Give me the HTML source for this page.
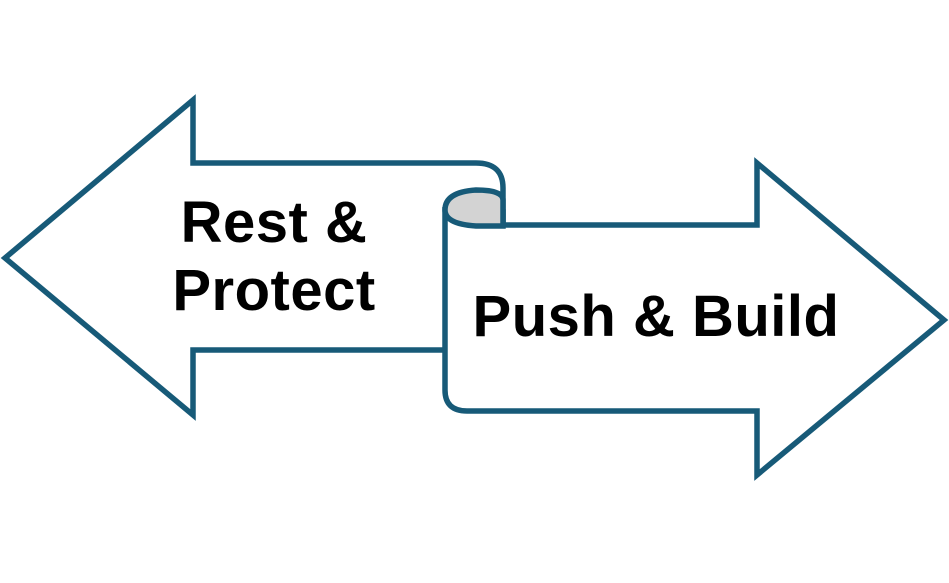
<!DOCTYPE html>
<html><head><style>body{margin:0;background:#fff}</style></head><body>
<svg width="949" height="578" viewBox="0 0 949 578" xmlns="http://www.w3.org/2000/svg">
<g stroke="#175a78" stroke-width="5.5" stroke-linejoin="miter" fill="#fff">
<path d="M445,350 L193,350 L193,415 L5,258 L193,100 L193,163 L476,163 Q503,163 503,188 L503,225"/>
<path d="M474,212 L503,212 L503,225 L757,225 L757,163 L944,320 L757,475 L757,411 L467,411 Q445,411 445,390 L445,210 Z"/>
<path d="M445,210 Q445,192 476,190 Q503,190 503,200 L503,226 L476,226 Q445,224 445,210 Z" fill="#d3d3d3"/>
</g>
<g font-family="Liberation Sans, sans-serif" font-weight="bold" font-size="58" fill="#000" text-anchor="middle" letter-spacing="0.5">
<text x="274" y="242">Rest &amp;</text>
<text x="274" y="310">Protect</text>
<text x="656" y="336">Push &amp; Build</text>
</g>
</svg>
</body></html>
